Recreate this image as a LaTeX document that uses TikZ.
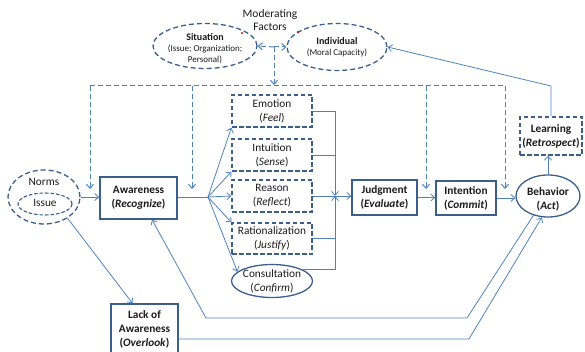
\documentclass[tikz,border=0pt]{standalone}
\usepackage{fontspec}
\setmainfont{Carlito}
\usetikzlibrary{arrows.meta,shapes.geometric,calc}
\definecolor{boxc}{HTML}{3C5E8C}
\definecolor{linec}{HTML}{4F81BD}
\definecolor{txtc}{HTML}{1A1A1A}
\begin{document}
\begin{tikzpicture}[x=1pt,y=-1pt,
  txt/.style={font=\fontsize{11.3}{14}\selectfont, align=center, text=txtc, inner sep=0pt},
  smalltxt/.style={font=\fontsize{9}{11}\selectfont, align=center, text=txtc, inner sep=0pt},
  sbox/.style={draw=boxc, line width=1.3pt, rectangle, inner sep=0pt, txt},
  dbox/.style={sbox, dash pattern=on 4.5pt off 2.5pt},
  sell/.style={draw=boxc, line width=1.3pt, ellipse, inner sep=0pt},
  dell/.style={sell, dash pattern=on 5pt off 3pt},
  arr/.style={draw=linec, line width=0.8pt, -{Straight Barb[length=4pt,width=7pt]}},
  ln/.style={draw=linec, line width=0.8pt},
  darr/.style={arr, line width=1pt, dash pattern=on 5pt off 3pt},
  dln/.style={ln, line width=1pt, dash pattern=on 5pt off 3pt}]
\useasboundingbox (0,0) rectangle (585,352);
\clip (0,0) rectangle (585,352);

% moderating factors
\node[txt, font=\fontsize{11.5}{13}\selectfont] (mod) at (270,20) {Moderating\\Factors};
\node[dell, minimum width=104pt, minimum height=45pt] (sit) at (205,46) {};
\node[smalltxt] (sitT) at (205,49) {{\fontsize{10}{11}\selectfont\bfseries Situation}\\(Issue; Organization;\\Personal)};
\node[dell, minimum width=100pt, minimum height=47pt] (ind) at (337,47) {};
\node[smalltxt] (indT) at (337,47.5) {{\fontsize{10}{11}\selectfont\bfseries Individual}\\(Moral Capacity)};
\fill[red!85!black] (242,33) circle (1.1pt) (298,32) circle (1.1pt);

\coordinate (J) at (274,47);
\coordinate (Jd) at (274,85);
\draw[darr] (J) -- (sit.east);
\draw[darr] (J) -- (ind.west);
\draw[darr] (J) -- (Jd);

% bus
\coordinate (B1) at (90,86);
\coordinate (B2) at (192,86);
\coordinate (B3) at (426,86);
\coordinate (B4) at (505,86);
\coordinate (E1) at (90,189);
\coordinate (E2) at (192,189);
\coordinate (E3) at (426,189);
\coordinate (E4) at (505,189);
\draw[dln] (B1) -- (B4);
\draw[darr] (B1) -- (E1);
\draw[darr] (B2) -- (E2);
\draw[darr] (B3) -- (E3);
\draw[darr] (B4) -- (E4);

% norms
\node[dell, minimum width=72pt, minimum height=54pt] (norms) at (44,197) {};
\node[dell, line width=1.1pt, dash pattern=on 3.5pt off 2pt, minimum width=54pt, minimum height=22pt] (issue) at (45,204) {};
\node[txt] (normsT) at (44,182) {Norms};
\node[txt] (issueT) at (45,203) {Issue};

% awareness
\node[sbox, minimum width=77pt, minimum height=42pt] (aware) at (138.5,198) {\textbf{Awareness}\\\textbf{(\textit{Recognize})}};
\draw[arr] (norms.east) -- (aware.west |- norms.east);

% five processes
\node[dbox, minimum width=80pt, minimum height=32pt] (emo) at (272,111) {Emotion\\(\textit{Feel})};
\node[dbox, minimum width=80pt, minimum height=32pt] (intu) at (272,155) {Intuition\\(\textit{Sense})};
\node[dbox, minimum width=80pt, minimum height=32pt] (reas) at (272,196) {Reason\\(\textit{Reflect})};
\node[dbox, minimum width=80pt, minimum height=31pt] (rat) at (272,238.5) {Rationalization\\(\textit{Justify})};
\node[sell, minimum width=81pt, minimum height=33pt] (cons) at (272,281) {};
\node[txt] (consT) at (272,281) {Consultation\\(\textit{Confirm})};

\coordinate (F) at (208,197);
\draw[ln] (aware.east |- F) -- (F);
\draw[arr] (F) -- (emo.south west);
\draw[arr] (F) -- (intu.south west);
\draw[arr] (F) -- (reas.west);
\draw[arr] (F) -- (rat.north west);
\draw[arr] (F) -- (cons.165);

% collector
\node[sbox, minimum width=65pt, minimum height=35pt] (judg) at (384.5,197.5) {\textbf{Judgment}\\\textbf{(\textit{Evaluate})}};
\coordinate (C) at (335,196);
\draw[arr] (emo.east) -| (C);
\draw[ln] (intu.east) -- (intu.east -| C);
\draw[arr] (cons.20) -| (C);
\draw[ln] (rat.east) -- (rat.east -| C);
\draw[arr] (reas.east) -- (judg.west |- reas.east);

% intention, behavior, learning
\node[sbox, minimum width=60pt, minimum height=34pt] (intent) at (466,198) {\textbf{Intention}\\\textbf{(\textit{Commit})}};
\node[sell, minimum width=64pt, minimum height=42pt] (behav) at (548,196) {};
\node[txt] (behavT) at (548,199) {\textbf{Behavior}\\\textbf{(\textit{Act})}};
\node[dbox, minimum width=62pt, minimum height=38pt] (learn) at (551,136) {\textbf{Learning}\\\textbf{(\textit{Retrospect})}};
\draw[arr] (judg.east) -- (intent.west |- judg.east);
\draw[arr] (intent.east) -- (behav.west |- intent.east);
\draw[arr] (behav.north) -- (learn.south -| behav.north);
\coordinate (L1) at (551,86);
\draw[arr] (learn.north) -- (L1) -- (ind.east);

% lack of awareness
\node[sbox, minimum width=67pt, minimum height=56pt] (lack) at (144.5,332) {};
\node[txt] (lackT) at (144.5,329) {\textbf{Lack of}\\\textbf{Awareness}\\\textbf{(\textit{Overlook})}};
\draw[arr] (norms.-42) -- ([xshift=-12pt]lack.north);

% feedback loops
\coordinate (P1) at (467,318);
\coordinate (P2) at (206,318);
\draw[arr] (behav.-127) -- (P1) -- (P2) -- ([xshift=13.5pt]aware.south);
\coordinate (Q1) at (469,339);
\draw[arr] ([yshift=-7pt]lack.east) -- (Q1) -- (behav.-106);
\end{tikzpicture}
\end{document}
